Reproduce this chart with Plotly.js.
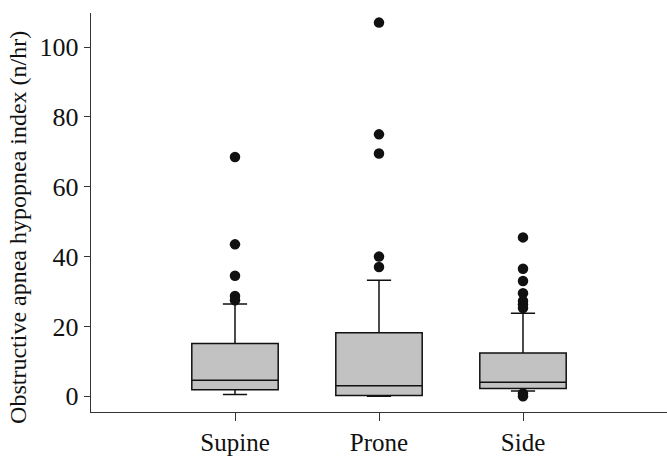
<!DOCTYPE html>
<html>
<head>
<meta charset="utf-8">
<script src="https://cdn.plot.ly/plotly-3.0.1.min.js"></script>
<style>html,body{margin:0;padding:0;background:#fff;}#chart{width:667px;height:457px;}</style>
</head>
<body>
<div id="chart"></div>
<script>
// Categories (sleep position)
const categories = ['Supine', 'Prone', 'Side'];
// Box statistics (n/hr)
const q1Values = [1.9, 0.2, 2.2];
const medianValues = [4.6, 3.0, 4.0];
const q3Values = [15.1, 18.2, 12.4];
const lowerWhisker = [0.5, 0.0, 1.5];
const upperWhisker = [26.4, 33.2, 23.8];
// Outliers per category
const outliersSupine = [68.5, 43.5, 34.5, 28.7, 27.5];
const outliersProne = [107, 75, 69.5, 40, 37];
const outliersSide = [45.5, 36.5, 33.0, 29.5, 27.3, 26.3, 25.3, 0.8, 0.0];
// Axis ticks
const yTicks = [0, 20, 40, 60, 80, 100];
const yTitle = 'Obstructive apnea hypopnea index (n/hr)';

const outX = [];
const outY = [];
[[categories[0], outliersSupine], [categories[1], outliersProne], [categories[2], outliersSide]].forEach(function (pair) {
  pair[1].forEach(function (v) { outX.push(pair[0]); outY.push(v); });
});

const boxTrace = {
  type: 'box',
  x: categories,
  q1: q1Values,
  median: medianValues,
  q3: q3Values,
  lowerfence: lowerWhisker,
  upperfence: upperWhisker,
  boxpoints: false,
  width: 0.6,
  whiskerwidth: 0.28,
  fillcolor: '#c2c2c2',
  line: { color: '#111', width: 1.5 },
  hoverinfo: 'y',
  showlegend: false
};

const outlierTrace = {
  type: 'scatter',
  mode: 'markers',
  x: outX,
  y: outY,
  marker: { color: '#111', size: 10.5 },
  cliponaxis: false,
  showlegend: false
};

const layout = {
  width: 667,
  height: 457,
  margin: { l: 91, r: 0, t: 13, b: 45 },
  paper_bgcolor: '#fff',
  plot_bgcolor: '#fff',
  font: { family: '"Liberation Serif", "Times New Roman", serif', color: '#111', size: 24 },
  showlegend: false,
  xaxis: {
    type: 'category',
    range: [-1, 3],
    showgrid: false,
    zeroline: false,
    showline: true,
    linecolor: '#333',
    linewidth: 1.3,
    ticks: 'outside',
    ticklen: 8,
    tickcolor: '#333',
    tickfont: { size: 25 }
  },
  yaxis: {
    range: [-4.5, 109.75],
    tickvals: yTicks,
    showgrid: false,
    zeroline: false,
    showline: true,
    linecolor: '#333',
    linewidth: 1.3,
    ticks: 'outside',
    ticklen: 6,
    tickcolor: '#333',
    tickfont: { size: 26 }
  },
  annotations: [{
    text: yTitle,
    xref: 'paper', yref: 'paper',
    x: -0.128, y: 0.462,
    xanchor: 'center', yanchor: 'middle',
    textangle: -90,
    showarrow: false,
    font: { size: 24, color: '#111' }
  }]
};

Plotly.newPlot('chart', [boxTrace, outlierTrace], layout, { displayModeBar: false, staticPlot: true });
</script>
</body>
</html>
